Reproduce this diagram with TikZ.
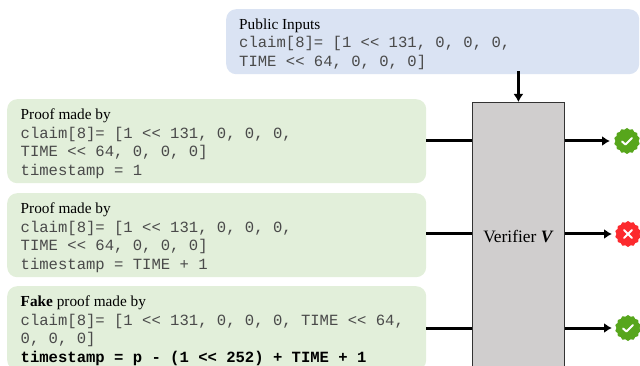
\documentclass[tikz,border=0pt]{standalone}
\usepackage{fontspec}
\setmainfont{Liberation Serif}
\setmonofont[Scale=1.018]{Liberation Mono}
\usetikzlibrary{positioning,calc,arrows.meta,shapes.geometric}
\definecolor{inputblue}{HTML}{DAE3F3}
\definecolor{proofgreen}{HTML}{E2EFDA}
\definecolor{verifiergray}{HTML}{D0CECE}
\definecolor{okgreen}{HTML}{57A61C}
\definecolor{badred}{HTML}{FC2A2E}
\definecolor{codegray}{HTML}{4A4A4A}
\newcommand{\codeline}[1]{{\ttfamily\color{codegray}#1}}
\tikzset{
  textbox/.style={rounded corners=10pt, align=left, anchor=north west, inner sep=0pt,
    text width=#1, font=\fontsize{15.3}{18.7}\selectfont,
    execute at begin node={\spaceskip=0pt\xspaceskip=0pt\relax\leavevmode\rule{0pt}{15.6pt}}},
  proofbox/.style={textbox=392pt, fill=proofgreen, minimum width=419pt, minimum height=84pt},
  flow/.style={line width=3pt},
  flowarrow/.style={flow, -{Latex[length=8pt,width=10pt]}},
  seal/.style={star, star points=14, star point ratio=1.12, inner sep=0pt, minimum size=26pt},
  tick/.style={draw=white, line width=2pt, line cap=round, line join=round}
}
\begin{document}
\begin{tikzpicture}[x=1pt, y=-1pt]
  \useasboundingbox (0,0) rectangle (640,366);
  \clip (0,0) rectangle (640,366);

  % inputs
  \node[textbox=387pt, fill=inputblue, minimum width=413pt, minimum height=65pt] (inputs) at (226,9) {%
    Public Inputs\\
    \codeline{claim[8]= [1 << 131, 0, 0, 0,}\\
    \codeline{TIME << 64, 0, 0, 0]}};

  % proofs
  \node[proofbox] (proofa) at (7,99) {%
    Proof made by\\
    \codeline{claim[8]= [1 << 131, 0, 0, 0,}\\
    \codeline{TIME << 64, 0, 0, 0]}\\
    \codeline{timestamp = 1}};
  \node[proofbox] (proofb) at (7,193) {%
    Proof made by\\
    \codeline{claim[8]= [1 << 131, 0, 0, 0,}\\
    \codeline{TIME << 64, 0, 0, 0]}\\
    \codeline{timestamp = TIME + 1}};
  \node[proofbox] (proofc) at (7,286) {%
    \textbf{Fake} proof made by\\
    \codeline{claim[8]= [1 << 131, 0, 0, 0, TIME << 64,}\\
    \codeline{0, 0, 0]}\\
    {\ttfamily\bfseries timestamp = p - (1 << 252) + TIME + 1}};

  % verifier
  \node[draw=black!80, line width=0.8pt, fill=verifiergray, anchor=north west, minimum width=92pt,
    minimum height=268pt, font=\fontsize{17.4}{20}\selectfont] (verifier) at (472,102) {Verifier \textbf{\textit{V}}};

  % results
  \node[seal, fill=okgreen] (resulta) at (627,141) {};
  \node[seal, fill=badred] (resultb) at (628,234) {};
  \node[seal, fill=okgreen] (resultc) at (628,328) {};
  \draw[tick] ([shift={(-5,0.5)}]resulta.center) -- ([shift={(-1.5,3.5)}]resulta.center) -- ([shift={(5,-3)}]resulta.center);
  \draw[tick] ([shift={(-5,0.5)}]resultc.center) -- ([shift={(-1.5,3.5)}]resultc.center) -- ([shift={(5,-3)}]resultc.center);
  \draw[tick] ([shift={(-4,-4)}]resultb.center) -- ([shift={(4,4)}]resultb.center);
  \draw[tick] ([shift={(-4,4)}]resultb.center) -- ([shift={(4,-4)}]resultb.center);

  % arrows
  \draw[flowarrow] ($(verifier.north |- inputs.south)+(0,-3)$) -- (verifier.north);
  \foreach \n/\ypos/\tipx in {a/141/610, b/234/612, c/328/612} {
    \coordinate (in\n) at (verifier.west |- 0,\ypos);
    \coordinate (out\n) at (verifier.east |- 0,\ypos);
    \coordinate (tip\n) at (\tipx,\ypos);
    \draw[flow] (proof\n.east |- in\n) -- (in\n);
    \draw[flowarrow] (out\n) -- (tip\n);
  }
\end{tikzpicture}
\end{document}
